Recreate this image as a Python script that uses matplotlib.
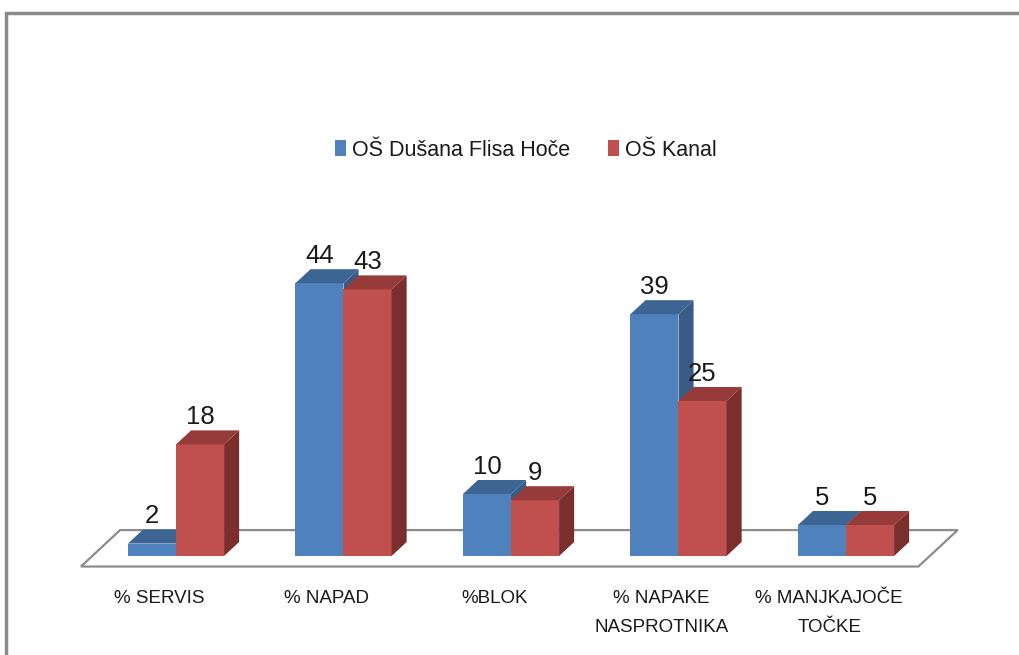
import matplotlib
matplotlib.use("Agg")
import matplotlib.pyplot as plt
from matplotlib.patches import Polygon, Patch, Rectangle

plt.rcParams["font.family"] = ["Liberation Sans Narrow", "Liberation Sans", "DejaVu Sans"]

# data
categories = ["% SERVIS", "% NAPAD", "%BLOK", "% NAPAKE\nNASPROTNIKA", "% MANJKAJOČE\nTOČKE"]
series_names = ["OŠ Dušana Flisa Hoče", "OŠ Kanal"]
hoce = [2, 44, 10, 39, 5]
kanal = [18, 43, 9, 25, 5]

# style: (front, top, side) shades per series
SHADES = [
    ("#4f81bd", "#3d6593", "#395c87"),
    ("#c0504d", "#963b39", "#7b2f2d"),
]
BAR_W = 0.287
DEPTH_X = 0.09
DEPTH_Y = 2.26
FLOOR_FRONT = -0.75
FLOOR_BACK = 1.85

W, H = 1020, 655
fig = plt.figure(figsize=(W / 100, H / 100), dpi=100)
ax = fig.add_axes([0, 0, 1, 1])
# 1 category = 167.5 px, 1 unit of value = 6.2 px, baseline at y=556 px
ax.set_xlim(-176 / 167.5, (W - 176) / 167.5)
ax.set_ylim((556 - H) / 6.2, 556 / 6.2)
ax.axis("off")

# chart frame (only top and left show in the reference)
fig.patches.append(Rectangle((6.5 / W, -0.1), 1.2, 1 - 13 / H + 0.1, transform=fig.transFigure,
                             fill=False, edgecolor="#8a8a8a", linewidth=2.5))

n = len(categories)


def depth(x, y, d):
    return (x + d * DEPTH_X, y + d * DEPTH_Y)


# floor
x0, x1 = -0.5, n - 0.5
floor = [depth(x0, 0, FLOOR_FRONT), depth(x1, 0, FLOOR_FRONT),
         depth(x1, 0, FLOOR_BACK), depth(x0, 0, FLOOR_BACK)]
ax.add_patch(Polygon(floor, closed=True, facecolor="white", edgecolor="#8c8c8c", linewidth=1.6))


def bar3d(x, v, shades):
    front, top, side = shades
    l, r = x, x + BAR_W
    ax.add_patch(Polygon([(l, 0), (r, 0), (r, v), (l, v)], facecolor=front, edgecolor="none"))
    ax.add_patch(Polygon([(l, v), (r, v), depth(r, v, 1), depth(l, v, 1)], facecolor=top, edgecolor="none"))
    ax.add_patch(Polygon([(r, 0), depth(r, 0, 1), depth(r, v, 1), (r, v)], facecolor=side, edgecolor="none"))
    ax.text(l + BAR_W / 2, v + DEPTH_Y + 0.2, f"{v:g}", ha="center", va="bottom",
            fontsize=18.5, color="#1a1a1a")


for i in range(n):
    for k, vals in enumerate([hoce, kanal]):
        bar3d(i - BAR_W + k * BAR_W, vals[i], SHADES[k])

for i, cat in enumerate(categories):
    ax.text(i - 0.1, -5.5, cat, ha="center", va="top", fontsize=13.5, color="#1a1a1a",
            linespacing=1.95)

handles = [Patch(facecolor=SHADES[k][0], edgecolor="none") for k in range(2)]
fig.legend(handles, series_names, loc="center", bbox_to_anchor=(526 / W, 1 - 150 / H), ncol=2,
           frameon=False, fontsize=15.5, handlelength=0.5, handleheight=0.8, handletextpad=0.3,
           columnspacing=1.75, labelcolor="#1a1a1a")

fig.savefig("out.png", dpi=100, facecolor="white")
